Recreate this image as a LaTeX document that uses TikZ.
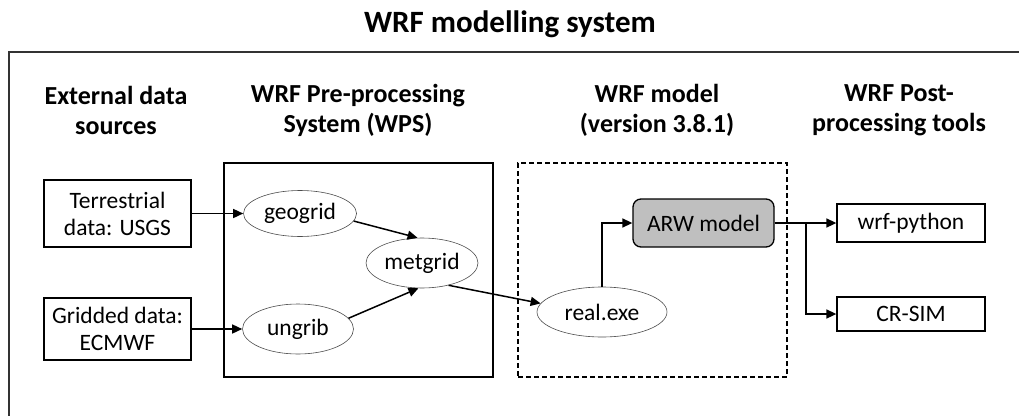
\documentclass[tikz,border=0pt]{standalone}
\usepackage{fontspec}
\setmainfont{Carlito}
\usetikzlibrary{shapes.geometric,arrows.meta}
\begin{document}
\begin{tikzpicture}[x=1pt,y=-1pt,
  body/.style={font=\fontsize{23.5}{27}\selectfont},
  head/.style={font=\bfseries\fontsize{26}{30}\selectfont, align=center},
  ell/.style={body, ellipse, draw=black!70, line width=0.6pt, inner sep=0pt},
  box/.style={body, rectangle, draw=black, line width=1.3pt, inner sep=0pt, align=center},
  arr/.style={line width=1.5pt, -{Triangle[length=10pt,width=9pt]}},
  container/.style={rectangle, inner sep=0pt, minimum width=269pt, minimum height=214pt}
]
\useasboundingbox (0,0) rectangle (1019,415);
% title and frame
\node[font=\bfseries\fontsize{31}{34}\selectfont, anchor=base] (title) at (510,32) {WRF modelling system};
\draw[line width=1.3pt, black!80] (9,416) -- (9,52) -- (1020,52);
% headers
\node[head] (h1) at (116,110) {External data\\sources};
\node[head] (h2) at (358,110) {WRF Pre-processing\\System (WPS)};
\node[head] (h3) at (657,110) {WRF model\\(version 3.8.1)};
\node[head] (h4) at (899,110) {WRF Post-\\processing tools};
% containers
\node[container, draw=black, line width=2.2pt] (wps) at (358.5,270) {};
\node[container, draw=black, line width=1.8pt, dash pattern=on 5pt off 3pt] (wrfm) at (652.5,270) {};
% nodes
\node[box, minimum width=147pt, minimum height=67pt] (ter) at (117.5,213.5) {Terrestrial\\data: USGS};
\node[box, minimum width=147pt, minimum height=62pt] (grd) at (117.5,329) {Gridded data:\\ECMWF};
\node[ell, minimum width=113pt, minimum height=46pt] (geo) at (300,213.5) {geogrid};
\node[ell, minimum width=111pt, minimum height=50pt] (ung) at (298,329) {ungrib};
\node[ell, minimum width=112pt, minimum height=50pt] (met) at (422,263) {metgrid};
\node[ell, minimum width=130pt, minimum height=50pt] (real) at (602,312) {real.exe};
\node[body, rectangle, rounded corners=8pt, draw=black, line width=1.3pt, fill=black!25,
      minimum width=141pt, minimum height=48pt, inner sep=0pt] (arw) at (703.5,223) {ARW model};
\node[box, minimum width=148pt, minimum height=38pt] (wrfpy) at (911,223) {wrf-python};
\node[box, minimum width=148pt, minimum height=34pt] (cr) at (911,314) {CR-SIM};
% connectors
\draw[arr] (ter.east) -- (geo.west);
\draw[arr] (grd.east) -- (ung.west);
\draw[arr] (geo.-8) -- (met.100);
\draw[arr] (ung.12) -- (met.262);
\draw[arr] (met.-40) -- (real.172);
\draw[arr] (real.north) |- (arw.west);
\draw[arr] (arw.east) -- (wrfpy.west);
\coordinate (br) at (806,223);
\draw[arr] (br) |- (cr.west);
\end{tikzpicture}
\end{document}
